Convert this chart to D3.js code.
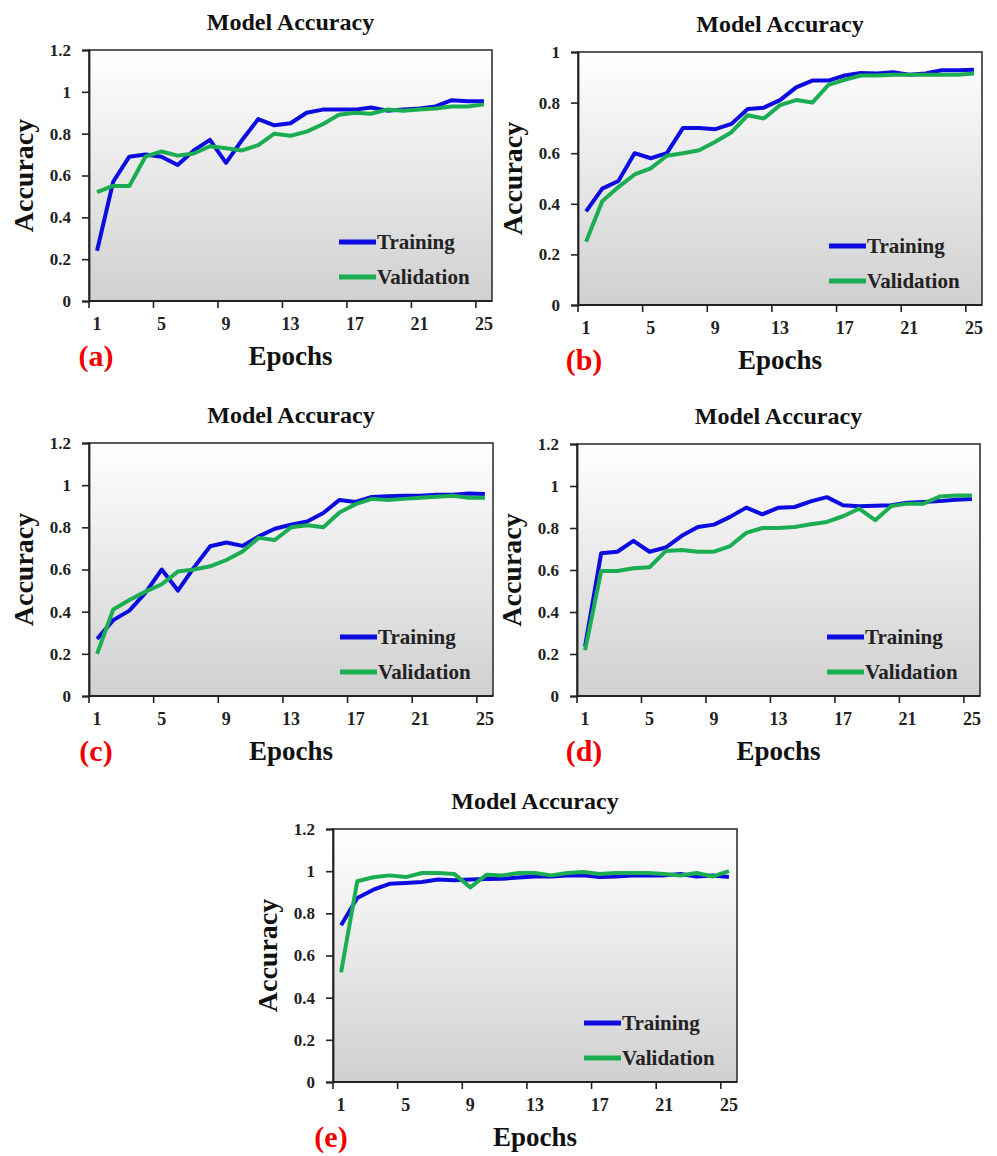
<!DOCTYPE html>
<html>
<head>
<meta charset="utf-8">
<script src="https://cdn.jsdelivr.net/npm/d3@7"></script>
<style>
  body { margin: 0; background: #fff; }
  text { font-family: "Liberation Serif", "Times New Roman", serif; font-weight: bold; }
</style>
</head>
<body>
<div class="figure"></div>
<script>

// epochs (categories on the x axis)
var epochs = [1,2,3,4,5,6,7,8,9,10,11,12,13,14,15,16,17,18,19,20,21,22,23,24,25];
var xTickLabels = [1,5,9,13,17,21,25];
var yTicks12 = [0,0.2,0.4,0.6,0.8,1,1.2];
var yTicks10 = [0,0.2,0.4,0.6,0.8,1];

var panelLetters = ["(a)","(b)","(c)","(d)","(e)"];
var seriesNames = ["Training","Validation"];

// (a)
var trainA = [0.24,0.57,0.69,0.70,0.69,0.65,0.72,0.77,0.66,0.77,0.87,0.84,0.85,0.90,0.915,0.915,0.915,0.925,0.91,0.915,0.92,0.93,0.96,0.955,0.955];
var valA   = [0.52,0.55,0.55,0.69,0.715,0.695,0.705,0.74,0.73,0.72,0.745,0.80,0.79,0.81,0.845,0.89,0.90,0.895,0.915,0.91,0.915,0.92,0.93,0.93,0.94];
// (b)
var trainB = [0.37,0.46,0.49,0.60,0.58,0.60,0.70,0.70,0.695,0.716,0.775,0.78,0.81,0.86,0.887,0.887,0.907,0.917,0.915,0.92,0.91,0.915,0.928,0.928,0.93];
var valB   = [0.25,0.41,0.466,0.516,0.54,0.59,0.60,0.612,0.645,0.683,0.75,0.737,0.79,0.81,0.80,0.87,0.89,0.907,0.907,0.91,0.91,0.91,0.91,0.91,0.915];
// (c)
var trainC = [0.27,0.36,0.405,0.49,0.60,0.50,0.61,0.71,0.728,0.712,0.757,0.793,0.812,0.828,0.868,0.93,0.92,0.944,0.947,0.95,0.95,0.955,0.955,0.96,0.958];
var valC   = [0.20,0.41,0.455,0.495,0.53,0.59,0.60,0.615,0.645,0.685,0.75,0.74,0.80,0.81,0.80,0.87,0.91,0.935,0.93,0.935,0.94,0.945,0.95,0.94,0.94];
// (d)
var trainD = [0.237,0.68,0.687,0.739,0.687,0.707,0.763,0.805,0.816,0.853,0.897,0.865,0.897,0.90,0.927,0.947,0.908,0.903,0.906,0.908,0.92,0.924,0.928,0.935,0.938];
var valD   = [0.218,0.595,0.595,0.608,0.613,0.69,0.695,0.687,0.687,0.714,0.777,0.80,0.80,0.805,0.818,0.829,0.856,0.892,0.837,0.905,0.916,0.916,0.95,0.955,0.955];
// (e)
var trainE = [0.743,0.873,0.912,0.94,0.944,0.949,0.96,0.957,0.96,0.963,0.964,0.97,0.975,0.975,0.979,0.98,0.972,0.975,0.979,0.979,0.98,0.987,0.975,0.979,0.972];
var valE   = [0.52,0.952,0.971,0.98,0.972,0.991,0.991,0.987,0.923,0.983,0.98,0.991,0.991,0.98,0.991,0.996,0.987,0.991,0.991,0.991,0.987,0.979,0.991,0.975,1.0];

var colors = ["#0c0ce0", "#1aad52"];

// where each panel's plot frame sits on the page
var panels = [
	{ left: 89,  top: 50,  right: 492, bottom: 301,  ticks: yTicks12, series: [trainA, valA], letterDx: 7 },
	{ left: 578, top: 52,  right: 982, bottom: 305,  ticks: yTicks10, series: [trainB, valB], letterDx: 6 },
	{ left: 89,  top: 443, right: 493, bottom: 696,  ticks: yTicks12, series: [trainC, valC], letterDx: 7 },
	{ left: 577, top: 444, right: 980, bottom: 696,  ticks: yTicks12, series: [trainD, valD], letterDx: 7 },
	{ left: 333, top: 829, right: 737, bottom: 1082, ticks: yTicks12, series: [trainE, valE], letterDx: -2 }
];

var svg = d3.select(".figure")
	.append("svg")
	.attr("width", 997)
	.attr("height", 1156);

var grad = svg.append("defs")
	.append("linearGradient")
	.attr("id", "plotBg")
	.attr("x1", 0).attr("y1", 0).attr("x2", 0).attr("y2", 1);
grad.append("stop").attr("offset", "0%").attr("stop-color", "#ffffff");
grad.append("stop").attr("offset", "100%").attr("stop-color", "#d0d0d0");

function drawPanel(p, i){

	var w = p.right - p.left,
		h = p.bottom - p.top;

	var g = svg.append("g")
		.attr("transform", "translate(" + p.left + "," + p.top + ")");

	var x = d3.scaleBand()
		.domain(epochs)
		.range([0, w]);

	var y = d3.scaleLinear()
		.domain([0, d3.max(p.ticks)])
		.range([h, 0]);

	// plot area
	g.append("rect")
		.attr("width", w)
		.attr("height", h)
		.attr("fill", "url(#plotBg)")
		.attr("stroke", "#333")
		.attr("stroke-width", 1.6);

	// y axis
	var yAxis = g.append("g")
		.call(d3.axisLeft(y)
			.tickValues(p.ticks)
			.tickSize(7)
			.tickPadding(11)
			.tickFormat(function(d){ return String(+d.toFixed(1)); }));
	yAxis.select(".domain").attr("stroke", "#222").attr("stroke-width", 1.8);
	yAxis.selectAll(".tick line").attr("stroke", "#222").attr("stroke-width", 1.6);
	yAxis.selectAll(".tick text")
		.attr("font-family", "Liberation Serif")
		.attr("font-weight", "bold")
		.attr("font-size", 17)
		.attr("fill", "#222");

	// x axis: ticks between categories, labels under every 4th epoch
	var xAxis = g.append("g")
		.attr("transform", "translate(0," + h + ")");
	xAxis.append("line")
		.attr("x1", 0).attr("x2", w)
		.attr("stroke", "#222")
		.attr("stroke-width", 1.8);
	xAxis.selectAll(".xtick")
		.data(xTickLabels)
		.enter()
		.append("line")
			.attr("x1", function(d){ return x(d); })
			.attr("x2", function(d){ return x(d); })
			.attr("y1", 0)
			.attr("y2", 7)
			.attr("stroke", "#222")
			.attr("stroke-width", 1.6);
	xAxis.selectAll(".xlabel")
		.data(xTickLabels)
		.enter()
		.append("text")
			.attr("x", function(d){ return x(d) + x.bandwidth()/2; })
			.attr("y", 29)
			.attr("text-anchor", "middle")
			.attr("font-size", 18)
			.attr("fill", "#222")
			.text(function(d){ return d; });

	// lines
	var line = d3.line()
		.x(function(d, j){ return x(epochs[j]) + x.bandwidth()/2; })
		.y(function(d){ return y(d); });

	g.selectAll(".series")
		.data(p.series)
		.enter()
		.append("path")
			.attr("d", line)
			.attr("fill", "none")
			.attr("stroke", function(d, j){ return colors[j]; })
			.attr("stroke-width", 4)
			.attr("stroke-linejoin", "round");

	// legend
	var legend = g.selectAll(".legend")
		.data(seriesNames)
		.enter()
		.append("g")
			.attr("transform", function(d, j){ return "translate(" + (w - 153) + "," + (h - 59 + j*35) + ")"; });
	legend.append("line")
		.attr("x1", 0).attr("x2", 37)
		.attr("stroke", function(d, j){ return colors[j]; })
		.attr("stroke-width", 5);
	legend.append("text")
		.attr("x", 38)
		.attr("y", 7)
		.attr("font-size", 21)
		.attr("fill", "#222")
		.text(function(d){ return d; });

	// titles
	g.append("text")
		.attr("x", w/2)
		.attr("y", -20)
		.attr("text-anchor", "middle")
		.attr("font-size", 24)
		.attr("fill", "#111")
		.text("Model Accuracy");

	g.append("text")
		.attr("transform", "translate(-56," + (h/2) + ") rotate(-90)")
		.attr("text-anchor", "middle")
		.attr("font-size", 28)
		.attr("fill", "#111")
		.text("Accuracy");

	g.append("text")
		.attr("x", w/2)
		.attr("y", h + 64)
		.attr("text-anchor", "middle")
		.attr("font-size", 27)
		.attr("fill", "#111")
		.text("Epochs");

	g.append("text")
		.attr("x", p.letterDx)
		.attr("y", h + 65)
		.attr("text-anchor", "middle")
		.attr("font-size", 30)
		.attr("fill", "#f00000")
		.text(panelLetters[i]);
}

panels.forEach(drawPanel);

</script>
</body>
</html>
